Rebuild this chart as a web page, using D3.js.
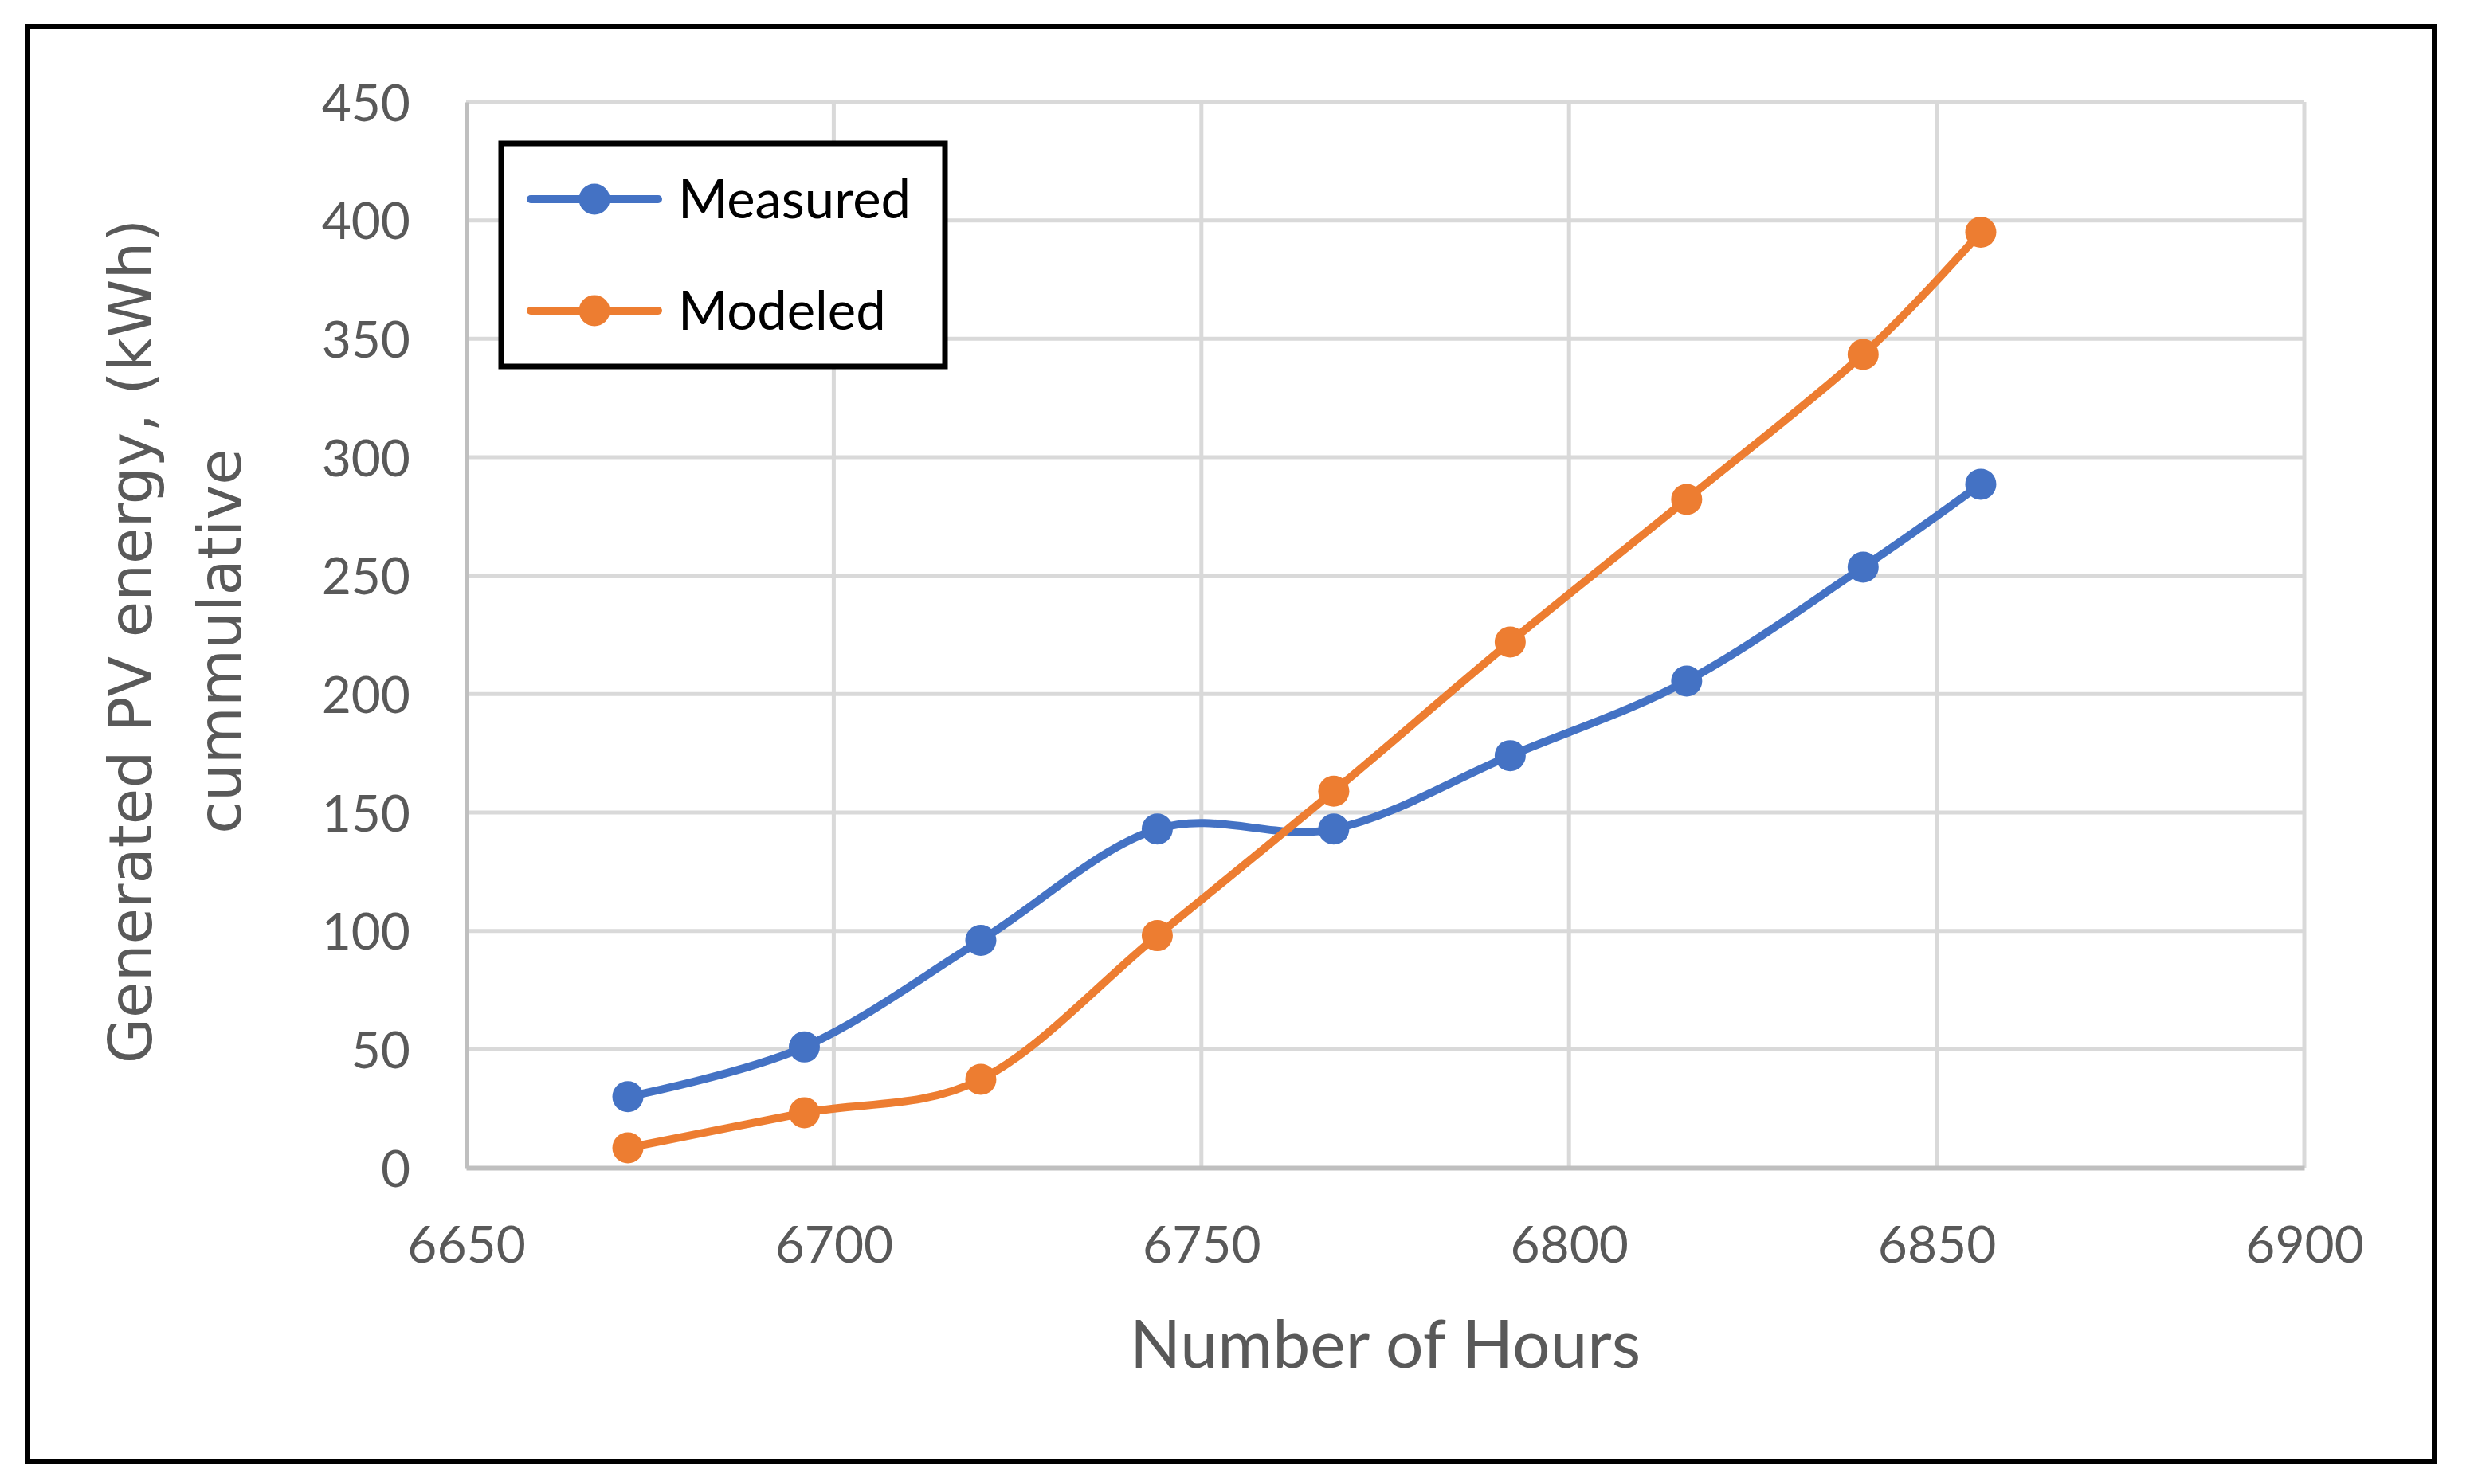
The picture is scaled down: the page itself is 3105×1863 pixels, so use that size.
<!DOCTYPE html>
<html>
<head>
<meta charset="utf-8">
<script src="https://cdn.jsdelivr.net/npm/d3@7"></script>
<style>
  html, body { margin: 0; padding: 0; background: #fff; }
  svg { display: block; }
</style>
</head>
<body>
<svg id="chart" width="3105" height="1863"></svg>
<script>
// ---- Data ----
const hours = [6672, 6696, 6720, 6744, 6768, 6792, 6816, 6840, 6856];
const measured = [30, 51, 96, 143, 143, 174, 205.5, 253.6, 288.6];
const modeled = [8.4, 23.2, 37.3, 98, 159, 222, 282.2, 343.4, 395];
const seriesNames = ["Measured", "Modeled"];
const xTicks = [6650, 6700, 6750, 6800, 6850, 6900];
const yTicks = [0, 50, 100, 150, 200, 250, 300, 350, 400, 450];
const xTitle = "Number of Hours";
const yTitleLines = ["Generated PV energy, (kWh)", "cummulative"];

// ---- Layout ----
const W = 3105, H = 1863;
const plot = { left: 585, right: 2892, top: 128, bottom: 1466 };
const colors = ["#4472C4", "#ED7D31"];
const textColor = "#595959";
const calibri = "Lato, 'Open Sans', sans-serif";

const svg = d3.select("#chart");
svg.append("rect").attr("width", W).attr("height", H).attr("fill", "#fff");

// outer border
svg.append("rect")
  .attr("x", 35).attr("y", 33).attr("width", 3020).attr("height", 1802)
  .attr("fill", "none").attr("stroke", "#000").attr("stroke-width", 6);

const x = d3.scaleLinear().domain([6650, 6900]).range([plot.left, plot.right]);
const y = d3.scaleLinear().domain([0, 450]).range([plot.bottom, plot.top]);

// gridlines
const grid = svg.append("g");
grid.selectAll("line.h").data(yTicks.filter(d => d > 0)).join("line")
  .attr("x1", plot.left).attr("x2", plot.right)
  .attr("y1", d => y(d)).attr("y2", d => y(d))
  .attr("stroke", "#D9D9D9").attr("stroke-width", 5);
grid.selectAll("line.v").data(xTicks.filter(d => d > 6650)).join("line")
  .attr("y1", plot.top).attr("y2", plot.bottom)
  .attr("x1", d => x(d)).attr("x2", d => x(d))
  .attr("stroke", "#D9D9D9").attr("stroke-width", 5);

// axes
const yAxis = svg.append("g")
  .attr("transform", `translate(${plot.left},0)`)
  .call(d3.axisLeft(y).tickValues(yTicks).tickSize(0).tickPadding(70).tickFormat(d3.format("d")));
const xAxis = svg.append("g")
  .attr("transform", `translate(0,${plot.bottom})`)
  .call(d3.axisBottom(x).tickValues(xTicks).tickSize(0).tickPadding(0).tickFormat(d3.format("d")));

yAxis.select(".domain").attr("stroke", "#BFBFBF").attr("stroke-width", 5);
xAxis.select(".domain").attr("stroke", "#BFBFBF").attr("stroke-width", 6);

yAxis.selectAll(".tick text")
  .attr("fill", textColor).attr("font-family", calibri).attr("font-size", 64)
  .attr("dy", "0.36em");
xAxis.selectAll(".tick text")
  .attr("fill", textColor).attr("font-family", calibri).attr("font-size", 64)
  .attr("y", 96).attr("dy", "0.36em");

// axis titles
svg.append("text")
  .attr("x", (plot.left + plot.right) / 2).attr("y", 1717)
  .attr("text-anchor", "middle")
  .attr("fill", textColor).attr("font-family", calibri).attr("font-size", 84)
  .text(xTitle);

const yTitle = svg.append("text")
  .attr("transform", `translate(190,805) rotate(-90)`)
  .attr("text-anchor", "middle")
  .attr("fill", textColor).attr("font-family", "'DejaVu Sans', sans-serif").attr("font-size", 74);
yTitle.selectAll("tspan").data(yTitleLines).join("tspan")
  .attr("x", 0).attr("dy", (d, i) => i === 0 ? 0 : 112)
  .text(d => d);

// series
const seriesData = [measured, modeled];
const line = d3.line()
  .x(d => x(d[0])).y(d => y(d[1]))
  .curve(d3.curveCardinal.tension(0));

seriesData.forEach((vals, i) => {
  const pts = hours.map((h, j) => [h, vals[j]]);
  svg.append("path")
    .attr("d", line(pts))
    .attr("fill", "none").attr("stroke", colors[i])
    .attr("stroke-width", 10).attr("stroke-linejoin", "round").attr("stroke-linecap", "round");
  svg.append("g").selectAll("circle").data(pts).join("circle")
    .attr("cx", d => x(d[0])).attr("cy", d => y(d[1])).attr("r", 19.5)
    .attr("fill", colors[i]);
});

// legend
const legend = svg.append("g");
legend.append("rect")
  .attr("x", 629).attr("y", 180).attr("width", 557).attr("height", 280)
  .attr("fill", "#fff").attr("stroke", "#000").attr("stroke-width", 7);
const legendY = [250, 390];
seriesNames.forEach((name, i) => {
  legend.append("line")
    .attr("x1", 666).attr("x2", 826).attr("y1", legendY[i]).attr("y2", legendY[i])
    .attr("stroke", colors[i]).attr("stroke-width", 10).attr("stroke-linecap", "round");
  legend.append("circle").attr("cx", 746).attr("cy", legendY[i]).attr("r", 19.5).attr("fill", colors[i]);
  legend.append("text")
    .attr("x", 851).attr("y", legendY[i]).attr("dy", "0.36em")
    .attr("fill", "#000").attr("font-family", calibri).attr("font-size", 67)
    .text(name);
});
</script>
</body>
</html>
